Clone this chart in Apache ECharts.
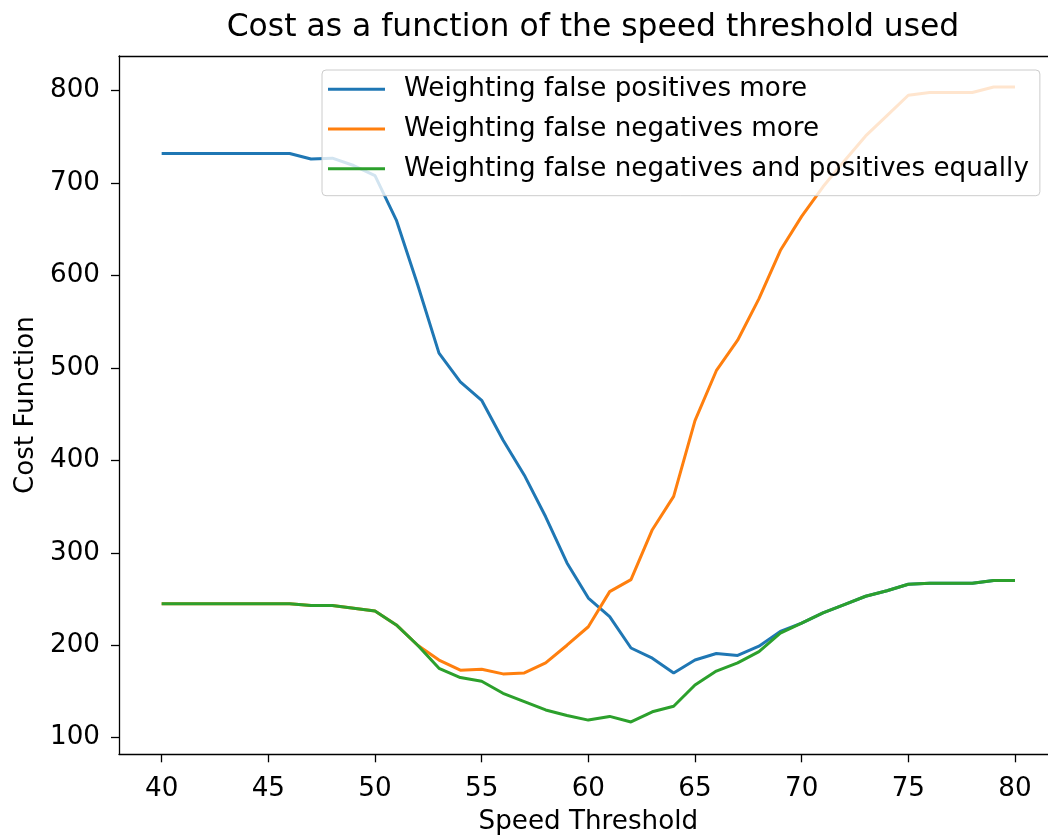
<!DOCTYPE html>
<html>
<head>
<meta charset="utf-8">
<script src="https://cdn.jsdelivr.net/npm/echarts@6/dist/echarts.min.js"></script>
<style>
  html, body { margin: 0; padding: 0; background: #fff; }
  #chart { width: 1048px; height: 836px; }
</style>
</head>
<body>
<div id="chart"></div>
<script>
const speeds = [40, 41, 42, 43, 44, 45, 46, 47, 48, 49, 50, 51, 52, 53, 54, 55, 56, 57, 58, 59, 60,
  61, 62, 63, 64, 65, 66, 67, 68, 69, 70, 71, 72, 73, 74, 75, 76, 77, 78, 79, 80];

const falsePositivesMore = [732, 732, 732, 732, 732, 732, 732, 726, 727, 719, 708, 660, 590, 516, 485, 465, 422, 384, 339, 289, 251,
  231, 197, 186, 170, 184, 191, 189, 199, 215, 224, 235, 244, 253, 259, 266, 267, 267, 267, 270, 270];

const falseNegativesMore = [245, 245, 245, 245, 245, 245, 245, 243, 243, 240, 237, 222, 200, 184, 173, 174, 169, 170, 181, 200, 220,
  258, 271, 325, 361, 443, 497, 530, 575, 627, 664, 696, 724, 751, 773, 795, 798, 798, 798, 804, 804];

const equalWeighting = [245, 245, 245, 245, 245, 245, 245, 243, 243, 240, 237, 222, 200, 175, 165, 161, 148, 139, 130, 124, 119,
  123, 117, 128, 134, 157, 172, 181, 193, 213, 224, 235, 244, 253, 259, 266, 267, 267, 267, 270, 270];

const seriesNames = [
  "Weighting false positives more",
  "Weighting false negatives more",
  "Weighting false negatives and positives equally",
];
const seriesColors = ["#1f77b4", "#ff7f0e", "#2ca02c"];

const xTicks = [40, 45, 50, 55, 60, 65, 70, 75, 80];
const yTicks = [100, 200, 300, 400, 500, 600, 700, 800];

const FONT = "DejaVu Sans";

const pairs = (values) => speeds.map((s, i) => [s, values[i]]);

const chart = echarts.init(document.getElementById("chart"), null, { renderer: "canvas" });

const spine = { show: true, lineStyle: { color: "#000", width: 1.3 } };

chart.setOption({
  animation: false,
  backgroundColor: "#ffffff",
  color: seriesColors,
  title: {
    text: "Cost as a function of the speed threshold used",
    left: 588,
    textAlign: "center",
    top: 7,
    textStyle: { fontFamily: FONT, fontSize: 31.4, fontWeight: "normal", color: "#000" },
  },
  legend: {
    orient: "vertical",
    left: 322,
    top: 70,
    padding: [6.3, 11, 14, 6],
    itemGap: 13.7,
    itemWidth: 71,
    itemHeight: 26,
    symbolKeepAspect: false,
    icon: "path://M0,0 M0,11.5 L57,11.5 L57,14.5 L0,14.5 Z M71,26",
    backgroundColor: "rgba(255,255,255,0.8)",
    borderColor: "#cccccc",
    borderWidth: 1,
    borderRadius: 4,
    textStyle: { fontFamily: FONT, fontSize: 26.2, color: "#000" },
    data: seriesNames,
  },
  grid: {
    left: 119,
    top: 56,
    width: 938.65,
    bottom: 81.7,
    outerBoundsMode: "none",
    containLabel: false,
    show: false,
  },
  xAxis: [
    {
      type: "value",
      min: 38,
      max: 82,
      name: "Speed Threshold",
      nameLocation: "middle",
      nameGap: 55,
      nameTextStyle: { fontFamily: FONT, fontSize: 26.2, color: "#000" },
      axisLine: spine,
      axisTick: { show: true, inside: false, length: 8, customValues: xTicks, lineStyle: { color: "#000", width: 1.3 } },
      axisLabel: { customValues: xTicks, margin: 22, fontFamily: FONT, fontSize: 26.2, color: "#000" },
      splitLine: { show: false },
    },
    {
      // top spine only
      type: "value",
      position: "top",
      min: 38,
      max: 82,
      axisLine: spine,
      axisTick: { show: false },
      axisLabel: { show: false },
      splitLine: { show: false },
    },
  ],
  yAxis: {
    type: "value",
    min: 82,
    max: 837.5,
    name: "Cost Function",
    nameLocation: "middle",
    nameGap: 76,
    nameTextStyle: { fontFamily: FONT, fontSize: 26.2, color: "#000" },
    axisLine: spine,
    axisTick: { show: true, inside: false, length: 8, customValues: yTicks, lineStyle: { color: "#000", width: 1.3 } },
    axisLabel: { customValues: yTicks, margin: 19, fontFamily: FONT, fontSize: 26.2, color: "#000" },
    splitLine: { show: false },
  },
  series: [
    { name: seriesNames[0], type: "line", data: pairs(falsePositivesMore) },
    { name: seriesNames[1], type: "line", data: pairs(falseNegativesMore) },
    { name: seriesNames[2], type: "line", data: pairs(equalWeighting) },
  ].map((s, i) => ({
    ...s,
    symbol: "none",
    lineStyle: { width: 3, color: seriesColors[i] },
    itemStyle: { color: seriesColors[i] },
    z: 2 + i,
  })),
});
</script>
</body>
</html>
